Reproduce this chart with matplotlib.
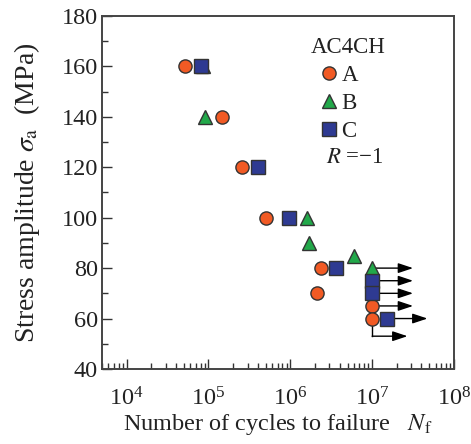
import matplotlib
matplotlib.use("Agg")
import matplotlib.pyplot as plt
from matplotlib.ticker import MultipleLocator, LogLocator, NullFormatter

plt.rcParams['font.family'] = ['Liberation Serif', 'DejaVu Serif']
plt.rcParams['mathtext.fontset'] = 'stix'

# ---- data ----
A_N = [5.2e4, 1.45e5, 2.6e5, 5.0e5, 2.4e6, 2.1e6, 1.0e7, 1.0e7]
A_S = [160, 140, 120, 100, 80, 70, 65, 60]
A_run = [0, 0, 0, 0, 0, 0, 1, 2]   # 1 = runout arrow, 2 = bent runout arrow

B_N = [8.5e4, 9.0e4, 1.6e6, 1.7e6, 6.0e6, 1.0e7]
B_S = [160, 140, 100, 90, 85, 80]
B_run = [0, 0, 0, 0, 0, 1]

C_N = [8.0e4, 4.0e5, 9.5e5, 3.6e6, 1.0e7, 1.0e7, 1.5e7]
C_S = [160, 120, 100, 80, 75, 70, 60]
C_run = [0, 0, 0, 0, 1, 1, 1]

col_A = '#F15A24'
col_B = '#22A84A'
col_C = '#2E3A92'

fig = plt.figure(figsize=(4.71, 4.44), dpi=100)
ax = fig.add_axes([0.2166, 0.169, 0.7473, 0.795])

ax.set_xscale('log')
ax.set_xlim(5e3, 1e8)
ax.set_ylim(40, 180)

edge = '#333333'
lB, = ax.plot(B_N, B_S, linestyle='none', marker='^', ms=10.5, mfc=col_B, mec=edge, mew=1.0, zorder=4, label='B')
lA, = ax.plot(A_N, A_S, linestyle='none', marker='o', ms=9.5, mfc=col_A, mec=edge, mew=1.0, zorder=5, label='A')
lC, = ax.plot(C_N, C_S, linestyle='none', marker='s', ms=9.5, mfc=col_C, mec=edge, mew=1.0, zorder=6, label='C')

arrow_kw = dict(arrowstyle='-|>,head_length=0.9,head_width=0.3', color='black', lw=1.0,
                shrinkA=0, shrinkB=0, mutation_scale=10)

def runout(N, S, flags):
    for n, s, f in zip(N, S, flags):
        if f == 1:
            ax.annotate('', xy=(n * 3.16, s), xytext=(n, s), arrowprops=arrow_kw, zorder=3)
        elif f == 2:
            s2 = s - 7
            ax.plot([n, n], [s, s2], color='black', lw=1.0, zorder=3)
            ax.annotate('', xy=(n * 2.7, s2), xytext=(n, s2), arrowprops=arrow_kw, zorder=3)

runout(B_N, B_S, B_run)
runout(A_N, A_S, A_run)
runout(C_N, C_S, C_run)

# ticks
ax.yaxis.set_major_locator(MultipleLocator(20))
ax.yaxis.set_minor_locator(MultipleLocator(10))
ax.xaxis.set_major_locator(LogLocator(base=10, numticks=10))
ax.xaxis.set_minor_locator(LogLocator(base=10, subs=range(2, 10), numticks=20))
ax.xaxis.set_minor_formatter(NullFormatter())
ax.tick_params(which='both', direction='in', top=False, right=False, labelsize=17.5, colors='#333333',
               labelcolor='#222222')
ax.tick_params(which='major', length=7, width=1.0)
ax.tick_params(axis='x', which='major', pad=13)
ax.tick_params(axis='y', which='major', pad=3)
ax.tick_params(which='minor', length=4, width=1.0)
for sp in ax.spines.values():
    sp.set_linewidth(1.4)
    sp.set_color('#444444')

ax.set_xlabel(r'Number of cycles to failure   $N_\mathrm{f}$', fontsize=17.5, color='#222222', labelpad=1)
ax.set_ylabel(r'Stress amplitude $\sigma_\mathrm{a}$  (MPa)', fontsize=20, color='#222222', labelpad=14)

# legend
ax.text(0.594, 0.910, 'AC4CH', transform=ax.transAxes, fontsize=16.5, va='center', ha='left', color='#222222')
leg = ax.legend(handles=[lA, lB, lC], loc='upper left', bbox_to_anchor=(0.615, 0.862), frameon=False,
                fontsize=16.5, handlelength=0.9, handletextpad=0.1, labelspacing=0.3, borderpad=0,
                borderaxespad=0, numpoints=1)
for t in leg.get_texts():
    t.set_color('#222222')
ax.text(0.636, 0.600, r'$R$ =−1', transform=ax.transAxes, fontsize=16.5, va='center', ha='left', color='#222222')

fig.savefig('out.png', dpi=100)
